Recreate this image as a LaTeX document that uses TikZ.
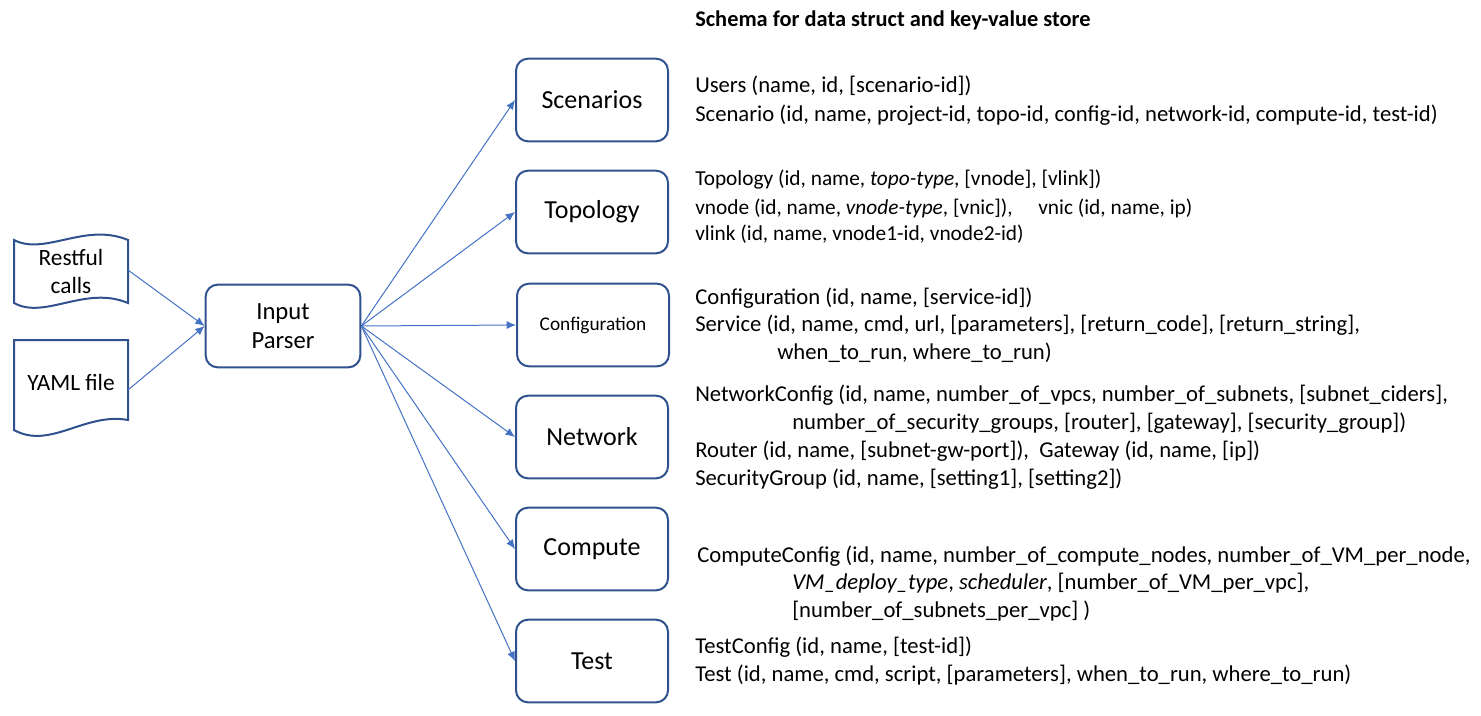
\documentclass[tikz,border=0pt]{standalone}
\usepackage{fontspec}
\setmainfont{Carlito}
\usetikzlibrary{arrows.meta}
\definecolor{boxblue}{RGB}{47,82,143}
\definecolor{arrowblue}{RGB}{68,114,196}
\begin{document}
\begin{tikzpicture}[
        x=0.75pt, y=-0.75pt,
        block/.style={
            rectangle,
            draw=boxblue,
            line width=1.5pt,
            rounded corners=9pt,
            align=center,
            minimum width=114pt,
            minimum height=62pt,
            font=\fontsize{19.5}{23}\selectfont,
            inner sep=2pt
        },
        arrow/.style={
            -{Latex[length=7pt,width=6pt]},
            draw=arrowblue,
            line width=0.75pt
        },
        schema/.style={
            anchor=west,
            inner sep=0pt,
            font=\fontsize{17}{20}\selectfont
        },
        schemasmall/.style={
            schema,
            font=\fontsize{16}{20}\selectfont
        }
    ]
        \useasboundingbox (0,0) rectangle (1481,715);

        % input sources
        \draw[boxblue, line width=1.5pt]
            (14,240) .. controls (45,256) and (85,222) .. (128,240)
            -- (128,303) .. controls (85,285) and (45,320) .. (14,303) -- cycle;
        \node[font=\fontsize{17.5}{21}\selectfont, align=center] (rest) at (71,271) {Restful\\calls};
        \draw[boxblue, line width=1.5pt]
            (14,340) -- (128,340) -- (128,420)
            .. controls (85,412) and (50,450) .. (14,430) -- cycle;
        \node[font=\fontsize{17.5}{21}\selectfont] (yaml) at (71,382) {YAML file};
        \coordinate (restout) at (128,270);
        \coordinate (yamlout) at (128,390);

        \node[block, minimum width=116pt, font=\fontsize{18.5}{22}\selectfont] (parser) at (283,326) {Input\\Parser};

        \draw[arrow] (restout) -- (parser.west);
        \draw[arrow] (yamlout) -- (parser.west);

        % schema blocks
        \node[block] (scen) at (592,100) {Scenarios};
        \node[block] (topo) at (592,212) {Topology};
        \node[block, font=\fontsize{14.5}{16}\selectfont] (conf) at (593,325) {Configuration};
        \node[block] (net) at (592,437) {Network};
        \node[block] (comp) at (592,549) {Compute};
        \node[block] (test) at (592,661) {Test};

        \foreach \n in {scen,topo,conf,net,comp,test}
            \draw[arrow] (parser.east) -- (\n.west);

        % schema text
        \node[schema, font=\fontsize{16.8}{20}\selectfont\bfseries] (title) at (695,20) {Schema for data struct and key-value store};

        \node[schema] (users) at (695,86) {Users (name, id, [scenario-id])};
        \node[schema] (scentx) at (695,115) {Scenario (id, name, project-id, topo-id, config-id, network-id, compute-id, test-id)};

        \node[schemasmall] (topotx) at (695,180) {Topology (id, name, \textit{topo-type}, [vnode], [vlink])};
        \node[schemasmall] (vnode) at (695,208) {vnode (id, name, \textit{vnode-type}, [vnic]),\hspace{1.2em}vnic (id, name, ip)};
        \node[schemasmall] (vlink) at (695,234) {vlink (id, name, vnode1-id, vnode2-id)};

        \node[schema] (conftx) at (695,298) {Configuration (id, name, [service-id])};
        \node[schema] (service) at (695,325) {Service (id, name, cmd, url, [parameters], [return\_code], [return\_string],};
        \node[schema] (service2) at (777,353) {when\_to\_run, where\_to\_run)};

        \node[schema] (nettx) at (695,395) {NetworkConfig (id, name, number\_of\_vpcs, number\_of\_subnets, [subnet\_ciders],};
        \node[schema] (nettx2) at (792,423) {number\_of\_security\_groups, [router], [gateway], [security\_group])};
        \node[schema] (router) at (695,451) {Router (id, name, [subnet-gw-port]),~ Gateway (id, name, [ip])};
        \node[schema] (secgrp) at (695,479) {SecurityGroup (id, name, [setting1], [setting2])};

        \node[schema] (comptx) at (697,556) {ComputeConfig (id, name, number\_of\_compute\_nodes, number\_of\_VM\_per\_node,};
        \node[schema] (comptx2) at (792,583) {\textit{VM\_deploy\_type}, \textit{scheduler}, [number\_of\_VM\_per\_vpc],};
        \node[schema] (comptx3) at (792,611) {[number\_of\_subnets\_per\_vpc] )};

        \node[schema] (testtx) at (695,647) {TestConfig (id, name, [test-id])};
        \node[schema] (testtx2) at (695,675) {Test (id, name, cmd, script, [parameters], when\_to\_run, where\_to\_run)};

    \end{tikzpicture}
\end{document}
